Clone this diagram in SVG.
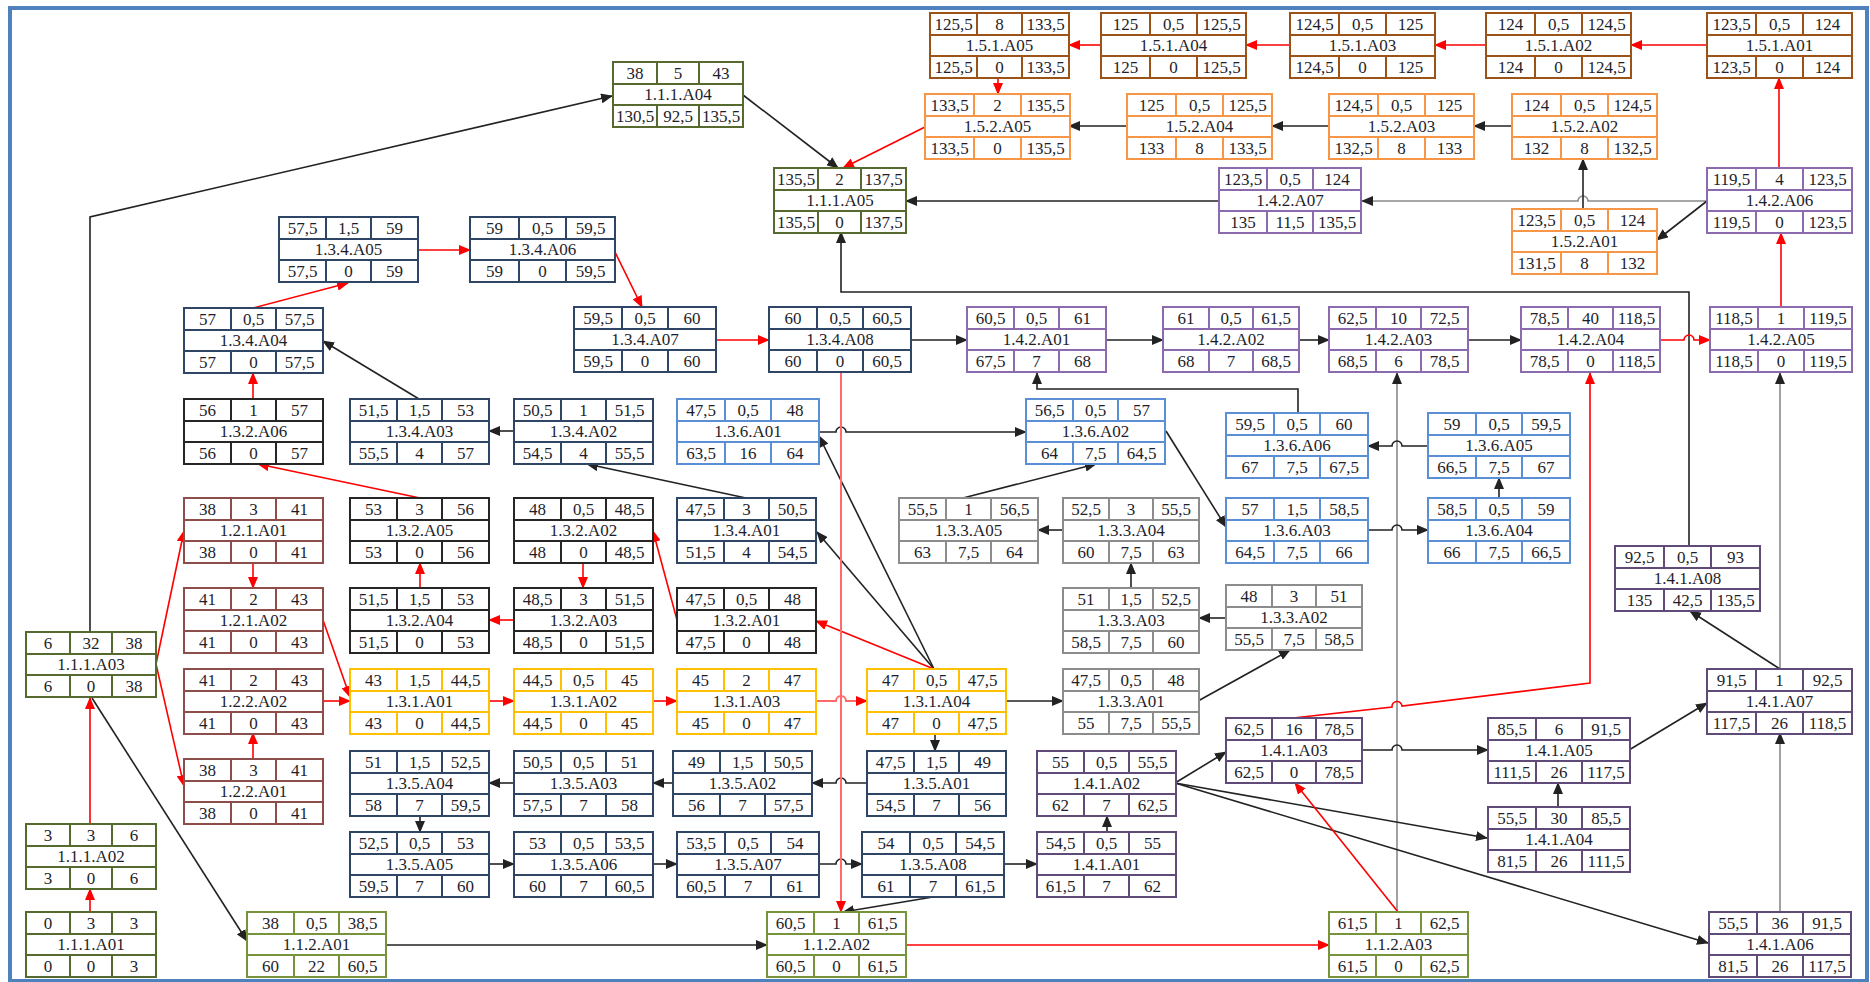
<svg xmlns="http://www.w3.org/2000/svg" xmlns:xlink="http://www.w3.org/1999/xlink" width="1870" height="982" viewBox="0 0 1870 982">
<style>
.n text{font-family:"Liberation Serif","Times New Roman",serif;font-size:17px;fill:#1e1e2a;stroke:none;text-anchor:middle}
.n use{fill:#fff;stroke-width:2}
.c111{stroke:#56692e}.c112{stroke:#77933c}.c12{stroke:#8d4e4b}.c131{stroke:#ffc000}.c132{stroke:#262626}.c133{stroke:#8c8c8c}.c134{stroke:#2f4566}.c136{stroke:#5a8fd6}.c141{stroke:#5f4a78}.c142{stroke:#8b6aad}.c151{stroke:#9c5318}.c152{stroke:#f79646}
.k path{fill:none;stroke-width:1.6}
.k .b{stroke:#222;marker-end:url(#ak)}
.k .g{stroke:#8a8a8a;marker-end:url(#ak)}
.k .r{stroke:#f00;marker-end:url(#ar)}
.k .p{stroke:#ff6a6a;stroke-width:2;marker-end:url(#ar)}
</style>
<defs>
<marker id="ak" markerUnits="userSpaceOnUse" markerWidth="12" markerHeight="10" refX="11" refY="5" orient="auto"><path d="M0 0L12 5L0 10z" fill="#222"/></marker>
<marker id="ar" markerUnits="userSpaceOnUse" markerWidth="12" markerHeight="10" refX="11" refY="5" orient="auto"><path d="M0 0L12 5L0 10z" fill="#f00"/></marker>
<path id="w130" d="M0 0H130V65H0Z M0 22H130 M0 43H130 M44 0V22 M86 0V22 M44 43V65 M86 43V65"/>
<path id="w132" d="M0 0H132V65H0Z M0 22H132 M0 43H132 M44 0V22 M87 0V22 M44 43V65 M87 43V65"/>
<path id="w136" d="M0 0H136V65H0Z M0 22H136 M0 43H136 M46 0V22 M90 0V22 M46 43V65 M90 43V65"/>
<path id="w139" d="M0 0H139V65H0Z M0 22H139 M0 43H139 M47 0V22 M92 0V22 M47 43V65 M92 43V65"/>
<path id="w142" d="M0 0H142V65H0Z M0 22H142 M0 43H142 M48 0V22 M94 0V22 M48 43V65 M94 43V65"/>
<path id="w145" d="M0 0H145V65H0Z M0 22H145 M0 43H145 M49 0V22 M96 0V22 M49 43V65 M96 43V65"/>
</defs>
<rect x="0" y="0" width="1870" height="982" fill="#fff"/>
<rect x="10" y="8" width="1857" height="973" fill="none" stroke="#4f81bd" stroke-width="4"/>
<g id="connectors" class="k">
<path class="b" d="M90 632V217L612 96"/>
<path class="b" d="M743 95L838 168"/>
<path class="b" d="M1219 201H906"/>
<path class="b" d="M1689 546V292H841V232"/>
<path class="g" d="M1707 201H1588a5 5 0 0 0-10 0H1362"/>
<path class="b" d="M1707 201L1657 240"/>
<path class="b" d="M1583 209V159"/>
<path class="b" d="M1512 126H1474"/>
<path class="b" d="M1329 126H1272"/>
<path class="b" d="M1127 126H1069"/>
<path class="b" d="M911 340H967"/>
<path class="b" d="M1106 340H1163"/>
<path class="b" d="M1299 340H1329"/>
<path class="b" d="M1467 340H1521"/>
<path class="b" d="M1298 413V389H1037V373"/>
<path class="g" d="M1397 912V373"/>
<path class="g" d="M1780 669V373"/>
<path class="b" d="M1780 669L1690 611"/>
<path class="g" d="M1780 912V733"/>
<path class="b" d="M1629 750L1707 703"/>
<path class="b" d="M1558 807V783"/>
<path class="b" d="M1362 750H1392a5 5 0 0 1 10 0H1488"/>
<path class="b" d="M1175 783L1226 752"/>
<path class="b" d="M1175 783L1487 838"/>
<path class="b" d="M1175 783L1708 943"/>
<path class="b" d="M1107 832V816"/>
<path class="b" d="M1005 864H1037"/>
<path class="b" d="M933 897L843 912"/>
<path class="b" d="M818 864H836a5 5 0 0 1 10 0H862"/>
<path class="b" d="M654 864H677"/>
<path class="b" d="M490 864H514"/>
<path class="b" d="M420 816V832"/>
<path class="b" d="M514 783H489"/>
<path class="b" d="M673 783H653"/>
<path class="b" d="M867 783H846a5 5 0 0 0-10 0H812"/>
<path class="b" d="M935 733V751"/>
<path class="b" d="M1005 701H1063"/>
<path class="b" d="M1198 701L1290 650"/>
<path class="b" d="M1226 618H1199"/>
<path class="b" d="M1131 588V563"/>
<path class="b" d="M1063 530H1038"/>
<path class="b" d="M963 498L1096 464"/>
<path class="b" d="M818 432H836a5 5 0 0 1 10 0H1026"/>
<path class="b" d="M1166 431L1226 527"/>
<path class="b" d="M1368 530H1392a5 5 0 0 1 10 0H1428"/>
<path class="b" d="M1499 498V478"/>
<path class="b" d="M1428 446H1402a5 5 0 0 0-10 0H1368"/>
<path class="b" d="M934 669L819 436"/>
<path class="b" d="M934 669L817 532"/>
<path class="b" d="M746 498L587 464"/>
<path class="b" d="M514 431H489"/>
<path class="b" d="M419 399L323 341"/>
<path class="b" d="M92 698L247 941"/>
<path class="b" d="M386 945H767"/>
<path class="r" d="M90 912V889"/>
<path class="r" d="M90 824V698"/>
<path class="r" d="M156 664L184 531"/>
<path class="r" d="M156 664L184 786"/>
<path class="r" d="M253 563V588"/>
<path class="r" d="M253 759V733"/>
<path class="r" d="M323 620L350 697"/>
<path class="r" d="M323 701H350"/>
<path class="r" d="M489 701H514"/>
<path class="r" d="M653 701H677"/>
<path class="p" d="M816 701H836a5 5 0 0 1 10 0H867"/>
<path class="r" d="M934 669L816 621"/>
<path class="r" d="M677 620L653 531"/>
<path class="r" d="M583 563V588"/>
<path class="r" d="M514 620H489"/>
<path class="r" d="M420 588V563"/>
<path class="r" d="M420 498L258 464"/>
<path class="r" d="M253 399V373"/>
<path class="r" d="M253 308L348 283"/>
<path class="r" d="M418 250H470"/>
<path class="r" d="M614 250L642 307"/>
<path class="r" d="M716 340H769"/>
<path class="p" d="M841 373V912"/>
<path class="r" d="M906 945H1329"/>
<path class="r" d="M1398 912L1295 783"/>
<path class="r" d="M1293 718L1392 707a5 5 0 0 1 10 -1L1590 683V373"/>
<path class="r" d="M1661 340H1684a5 5 0 0 1 10 0H1710"/>
<path class="r" d="M1781 307V233"/>
<path class="r" d="M1779 168V78"/>
<path class="r" d="M1707 45H1631"/>
<path class="r" d="M1486 45H1435"/>
<path class="r" d="M1290 45H1246"/>
<path class="r" d="M1101 45H1069"/>
<path class="r" d="M998 78V94"/>
<path class="r" d="M925 127L843 168"/>
</g>
<g id="nodes">
<g id="n-1.1.1.A01" class="n c111" transform="translate(26,912)"><use href="#w130"/><text y="17"><tspan x="22">0</tspan><tspan x="65">3</tspan><tspan x="108">3</tspan></text><text x="65" y="38">1.1.1.A01</text><text y="60"><tspan x="22">0</tspan><tspan x="65">0</tspan><tspan x="108">3</tspan></text></g>
<g id="n-1.1.1.A02" class="n c111" transform="translate(26,824)"><use href="#w130"/><text y="17"><tspan x="22">3</tspan><tspan x="65">3</tspan><tspan x="108">6</tspan></text><text x="65" y="38">1.1.1.A02</text><text y="60"><tspan x="22">3</tspan><tspan x="65">0</tspan><tspan x="108">6</tspan></text></g>
<g id="n-1.1.1.A03" class="n c111" transform="translate(26,632)"><use href="#w130"/><text y="17"><tspan x="22">6</tspan><tspan x="65">32</tspan><tspan x="108">38</tspan></text><text x="65" y="38">1.1.1.A03</text><text y="60"><tspan x="22">6</tspan><tspan x="65">0</tspan><tspan x="108">38</tspan></text></g>
<g id="n-1.1.1.A04" class="n c111" transform="translate(613,62)"><use href="#w130"/><text y="17"><tspan x="22">38</tspan><tspan x="65">5</tspan><tspan x="108">43</tspan></text><text x="65" y="38">1.1.1.A04</text><text y="60"><tspan x="22">130,5</tspan><tspan x="65">92,5</tspan><tspan x="108">135,5</tspan></text></g>
<g id="n-1.1.1.A05" class="n c111" transform="translate(774,168)"><use href="#w132"/><text y="17"><tspan x="22">135,5</tspan><tspan x="65.5">2</tspan><tspan x="109.5">137,5</tspan></text><text x="66" y="38">1.1.1.A05</text><text y="60"><tspan x="22">135,5</tspan><tspan x="65.5">0</tspan><tspan x="109.5">137,5</tspan></text></g>
<g id="n-1.1.2.A01" class="n c112" transform="translate(247,912)"><use href="#w139"/><text y="17"><tspan x="23.5">38</tspan><tspan x="69.5">0,5</tspan><tspan x="115.5">38,5</tspan></text><text x="69.5" y="38">1.1.2.A01</text><text y="60"><tspan x="23.5">60</tspan><tspan x="69.5">22</tspan><tspan x="115.5">60,5</tspan></text></g>
<g id="n-1.1.2.A02" class="n c112" transform="translate(767,912)"><use href="#w139"/><text y="17"><tspan x="23.5">60,5</tspan><tspan x="69.5">1</tspan><tspan x="115.5">61,5</tspan></text><text x="69.5" y="38">1.1.2.A02</text><text y="60"><tspan x="23.5">60,5</tspan><tspan x="69.5">0</tspan><tspan x="115.5">61,5</tspan></text></g>
<g id="n-1.1.2.A03" class="n c112" transform="translate(1329,912)"><use href="#w139"/><text y="17"><tspan x="23.5">61,5</tspan><tspan x="69.5">1</tspan><tspan x="115.5">62,5</tspan></text><text x="69.5" y="38">1.1.2.A03</text><text y="60"><tspan x="23.5">61,5</tspan><tspan x="69.5">0</tspan><tspan x="115.5">62,5</tspan></text></g>
<g id="n-1.2.1.A01" class="n c12" transform="translate(184,498)"><use href="#w139"/><text y="17"><tspan x="23.5">38</tspan><tspan x="69.5">3</tspan><tspan x="115.5">41</tspan></text><text x="69.5" y="38">1.2.1.A01</text><text y="60"><tspan x="23.5">38</tspan><tspan x="69.5">0</tspan><tspan x="115.5">41</tspan></text></g>
<g id="n-1.2.1.A02" class="n c12" transform="translate(184,588)"><use href="#w139"/><text y="17"><tspan x="23.5">41</tspan><tspan x="69.5">2</tspan><tspan x="115.5">43</tspan></text><text x="69.5" y="38">1.2.1.A02</text><text y="60"><tspan x="23.5">41</tspan><tspan x="69.5">0</tspan><tspan x="115.5">43</tspan></text></g>
<g id="n-1.2.2.A01" class="n c12" transform="translate(184,759)"><use href="#w139"/><text y="17"><tspan x="23.5">38</tspan><tspan x="69.5">3</tspan><tspan x="115.5">41</tspan></text><text x="69.5" y="38">1.2.2.A01</text><text y="60"><tspan x="23.5">38</tspan><tspan x="69.5">0</tspan><tspan x="115.5">41</tspan></text></g>
<g id="n-1.2.2.A02" class="n c12" transform="translate(184,669)"><use href="#w139"/><text y="17"><tspan x="23.5">41</tspan><tspan x="69.5">2</tspan><tspan x="115.5">43</tspan></text><text x="69.5" y="38">1.2.2.A02</text><text y="60"><tspan x="23.5">41</tspan><tspan x="69.5">0</tspan><tspan x="115.5">43</tspan></text></g>
<g id="n-1.3.1.A01" class="n c131" transform="translate(350,669)"><use href="#w139"/><text y="17"><tspan x="23.5">43</tspan><tspan x="69.5">1,5</tspan><tspan x="115.5">44,5</tspan></text><text x="69.5" y="38">1.3.1.A01</text><text y="60"><tspan x="23.5">43</tspan><tspan x="69.5">0</tspan><tspan x="115.5">44,5</tspan></text></g>
<g id="n-1.3.1.A02" class="n c131" transform="translate(514,669)"><use href="#w139"/><text y="17"><tspan x="23.5">44,5</tspan><tspan x="69.5">0,5</tspan><tspan x="115.5">45</tspan></text><text x="69.5" y="38">1.3.1.A02</text><text y="60"><tspan x="23.5">44,5</tspan><tspan x="69.5">0</tspan><tspan x="115.5">45</tspan></text></g>
<g id="n-1.3.1.A03" class="n c131" transform="translate(677,669)"><use href="#w139"/><text y="17"><tspan x="23.5">45</tspan><tspan x="69.5">2</tspan><tspan x="115.5">47</tspan></text><text x="69.5" y="38">1.3.1.A03</text><text y="60"><tspan x="23.5">45</tspan><tspan x="69.5">0</tspan><tspan x="115.5">47</tspan></text></g>
<g id="n-1.3.1.A04" class="n c131" transform="translate(867,669)"><use href="#w139"/><text y="17"><tspan x="23.5">47</tspan><tspan x="69.5">0,5</tspan><tspan x="115.5">47,5</tspan></text><text x="69.5" y="38">1.3.1.A04</text><text y="60"><tspan x="23.5">47</tspan><tspan x="69.5">0</tspan><tspan x="115.5">47,5</tspan></text></g>
<g id="n-1.3.2.A01" class="n c132" transform="translate(677,588)"><use href="#w139"/><text y="17"><tspan x="23.5">47,5</tspan><tspan x="69.5">0,5</tspan><tspan x="115.5">48</tspan></text><text x="69.5" y="38">1.3.2.A01</text><text y="60"><tspan x="23.5">47,5</tspan><tspan x="69.5">0</tspan><tspan x="115.5">48</tspan></text></g>
<g id="n-1.3.2.A02" class="n c132" transform="translate(514,498)"><use href="#w139"/><text y="17"><tspan x="23.5">48</tspan><tspan x="69.5">0,5</tspan><tspan x="115.5">48,5</tspan></text><text x="69.5" y="38">1.3.2.A02</text><text y="60"><tspan x="23.5">48</tspan><tspan x="69.5">0</tspan><tspan x="115.5">48,5</tspan></text></g>
<g id="n-1.3.2.A03" class="n c132" transform="translate(514,588)"><use href="#w139"/><text y="17"><tspan x="23.5">48,5</tspan><tspan x="69.5">3</tspan><tspan x="115.5">51,5</tspan></text><text x="69.5" y="38">1.3.2.A03</text><text y="60"><tspan x="23.5">48,5</tspan><tspan x="69.5">0</tspan><tspan x="115.5">51,5</tspan></text></g>
<g id="n-1.3.2.A04" class="n c132" transform="translate(350,588)"><use href="#w139"/><text y="17"><tspan x="23.5">51,5</tspan><tspan x="69.5">1,5</tspan><tspan x="115.5">53</tspan></text><text x="69.5" y="38">1.3.2.A04</text><text y="60"><tspan x="23.5">51,5</tspan><tspan x="69.5">0</tspan><tspan x="115.5">53</tspan></text></g>
<g id="n-1.3.2.A05" class="n c132" transform="translate(350,498)"><use href="#w139"/><text y="17"><tspan x="23.5">53</tspan><tspan x="69.5">3</tspan><tspan x="115.5">56</tspan></text><text x="69.5" y="38">1.3.2.A05</text><text y="60"><tspan x="23.5">53</tspan><tspan x="69.5">0</tspan><tspan x="115.5">56</tspan></text></g>
<g id="n-1.3.2.A06" class="n c132" transform="translate(184,399)"><use href="#w139"/><text y="17"><tspan x="23.5">56</tspan><tspan x="69.5">1</tspan><tspan x="115.5">57</tspan></text><text x="69.5" y="38">1.3.2.A06</text><text y="60"><tspan x="23.5">56</tspan><tspan x="69.5">0</tspan><tspan x="115.5">57</tspan></text></g>
<g id="n-1.3.3.A01" class="n c133" transform="translate(1063,669)"><use href="#w136"/><text y="17"><tspan x="23">47,5</tspan><tspan x="68">0,5</tspan><tspan x="113">48</tspan></text><text x="68" y="38">1.3.3.A01</text><text y="60"><tspan x="23">55</tspan><tspan x="68">7,5</tspan><tspan x="113">55,5</tspan></text></g>
<g id="n-1.3.3.A02" class="n c133" transform="translate(1226,585)"><use href="#w136"/><text y="17"><tspan x="23">48</tspan><tspan x="68">3</tspan><tspan x="113">51</tspan></text><text x="68" y="38">1.3.3.A02</text><text y="60"><tspan x="23">55,5</tspan><tspan x="68">7,5</tspan><tspan x="113">58,5</tspan></text></g>
<g id="n-1.3.3.A03" class="n c133" transform="translate(1063,588)"><use href="#w136"/><text y="17"><tspan x="23">51</tspan><tspan x="68">1,5</tspan><tspan x="113">52,5</tspan></text><text x="68" y="38">1.3.3.A03</text><text y="60"><tspan x="23">58,5</tspan><tspan x="68">7,5</tspan><tspan x="113">60</tspan></text></g>
<g id="n-1.3.3.A04" class="n c133" transform="translate(1063,498)"><use href="#w136"/><text y="17"><tspan x="23">52,5</tspan><tspan x="68">3</tspan><tspan x="113">55,5</tspan></text><text x="68" y="38">1.3.3.A04</text><text y="60"><tspan x="23">60</tspan><tspan x="68">7,5</tspan><tspan x="113">63</tspan></text></g>
<g id="n-1.3.3.A05" class="n c133" transform="translate(899,498)"><use href="#w139"/><text y="17"><tspan x="23.5">55,5</tspan><tspan x="69.5">1</tspan><tspan x="115.5">56,5</tspan></text><text x="69.5" y="38">1.3.3.A05</text><text y="60"><tspan x="23.5">63</tspan><tspan x="69.5">7,5</tspan><tspan x="115.5">64</tspan></text></g>
<g id="n-1.3.4.A01" class="n c134" transform="translate(677,498)"><use href="#w139"/><text y="17"><tspan x="23.5">47,5</tspan><tspan x="69.5">3</tspan><tspan x="115.5">50,5</tspan></text><text x="69.5" y="38">1.3.4.A01</text><text y="60"><tspan x="23.5">51,5</tspan><tspan x="69.5">4</tspan><tspan x="115.5">54,5</tspan></text></g>
<g id="n-1.3.4.A02" class="n c134" transform="translate(514,399)"><use href="#w139"/><text y="17"><tspan x="23.5">50,5</tspan><tspan x="69.5">1</tspan><tspan x="115.5">51,5</tspan></text><text x="69.5" y="38">1.3.4.A02</text><text y="60"><tspan x="23.5">54,5</tspan><tspan x="69.5">4</tspan><tspan x="115.5">55,5</tspan></text></g>
<g id="n-1.3.4.A03" class="n c134" transform="translate(350,399)"><use href="#w139"/><text y="17"><tspan x="23.5">51,5</tspan><tspan x="69.5">1,5</tspan><tspan x="115.5">53</tspan></text><text x="69.5" y="38">1.3.4.A03</text><text y="60"><tspan x="23.5">55,5</tspan><tspan x="69.5">4</tspan><tspan x="115.5">57</tspan></text></g>
<g id="n-1.3.4.A04" class="n c134" transform="translate(184,308)"><use href="#w139"/><text y="17"><tspan x="23.5">57</tspan><tspan x="69.5">0,5</tspan><tspan x="115.5">57,5</tspan></text><text x="69.5" y="38">1.3.4.A04</text><text y="60"><tspan x="23.5">57</tspan><tspan x="69.5">0</tspan><tspan x="115.5">57,5</tspan></text></g>
<g id="n-1.3.4.A05" class="n c134" transform="translate(279,217)"><use href="#w139"/><text y="17"><tspan x="23.5">57,5</tspan><tspan x="69.5">1,5</tspan><tspan x="115.5">59</tspan></text><text x="69.5" y="38">1.3.4.A05</text><text y="60"><tspan x="23.5">57,5</tspan><tspan x="69.5">0</tspan><tspan x="115.5">59</tspan></text></g>
<g id="n-1.3.4.A06" class="n c134" transform="translate(470,217)"><use href="#w145"/><text y="17"><tspan x="24.5">59</tspan><tspan x="72.5">0,5</tspan><tspan x="120.5">59,5</tspan></text><text x="72.5" y="38">1.3.4.A06</text><text y="60"><tspan x="24.5">59</tspan><tspan x="72.5">0</tspan><tspan x="120.5">59,5</tspan></text></g>
<g id="n-1.3.4.A07" class="n c134" transform="translate(574,307)"><use href="#w142"/><text y="17"><tspan x="24">59,5</tspan><tspan x="71">0,5</tspan><tspan x="118">60</tspan></text><text x="71" y="38">1.3.4.A07</text><text y="60"><tspan x="24">59,5</tspan><tspan x="71">0</tspan><tspan x="118">60</tspan></text></g>
<g id="n-1.3.4.A08" class="n c134" transform="translate(769,307)"><use href="#w142"/><text y="17"><tspan x="24">60</tspan><tspan x="71">0,5</tspan><tspan x="118">60,5</tspan></text><text x="71" y="38">1.3.4.A08</text><text y="60"><tspan x="24">60</tspan><tspan x="71">0</tspan><tspan x="118">60,5</tspan></text></g>
<g id="n-1.3.5.A01" class="n c134" transform="translate(867,751)"><use href="#w139"/><text y="17"><tspan x="23.5">47,5</tspan><tspan x="69.5">1,5</tspan><tspan x="115.5">49</tspan></text><text x="69.5" y="38">1.3.5.A01</text><text y="60"><tspan x="23.5">54,5</tspan><tspan x="69.5">7</tspan><tspan x="115.5">56</tspan></text></g>
<g id="n-1.3.5.A02" class="n c134" transform="translate(673,751)"><use href="#w139"/><text y="17"><tspan x="23.5">49</tspan><tspan x="69.5">1,5</tspan><tspan x="115.5">50,5</tspan></text><text x="69.5" y="38">1.3.5.A02</text><text y="60"><tspan x="23.5">56</tspan><tspan x="69.5">7</tspan><tspan x="115.5">57,5</tspan></text></g>
<g id="n-1.3.5.A03" class="n c134" transform="translate(514,751)"><use href="#w139"/><text y="17"><tspan x="23.5">50,5</tspan><tspan x="69.5">0,5</tspan><tspan x="115.5">51</tspan></text><text x="69.5" y="38">1.3.5.A03</text><text y="60"><tspan x="23.5">57,5</tspan><tspan x="69.5">7</tspan><tspan x="115.5">58</tspan></text></g>
<g id="n-1.3.5.A04" class="n c134" transform="translate(350,751)"><use href="#w139"/><text y="17"><tspan x="23.5">51</tspan><tspan x="69.5">1,5</tspan><tspan x="115.5">52,5</tspan></text><text x="69.5" y="38">1.3.5.A04</text><text y="60"><tspan x="23.5">58</tspan><tspan x="69.5">7</tspan><tspan x="115.5">59,5</tspan></text></g>
<g id="n-1.3.5.A05" class="n c134" transform="translate(350,832)"><use href="#w139"/><text y="17"><tspan x="23.5">52,5</tspan><tspan x="69.5">0,5</tspan><tspan x="115.5">53</tspan></text><text x="69.5" y="38">1.3.5.A05</text><text y="60"><tspan x="23.5">59,5</tspan><tspan x="69.5">7</tspan><tspan x="115.5">60</tspan></text></g>
<g id="n-1.3.5.A06" class="n c134" transform="translate(514,832)"><use href="#w139"/><text y="17"><tspan x="23.5">53</tspan><tspan x="69.5">0,5</tspan><tspan x="115.5">53,5</tspan></text><text x="69.5" y="38">1.3.5.A06</text><text y="60"><tspan x="23.5">60</tspan><tspan x="69.5">7</tspan><tspan x="115.5">60,5</tspan></text></g>
<g id="n-1.3.5.A07" class="n c134" transform="translate(677,832)"><use href="#w142"/><text y="17"><tspan x="24">53,5</tspan><tspan x="71">0,5</tspan><tspan x="118">54</tspan></text><text x="71" y="38">1.3.5.A07</text><text y="60"><tspan x="24">60,5</tspan><tspan x="71">7</tspan><tspan x="118">61</tspan></text></g>
<g id="n-1.3.5.A08" class="n c134" transform="translate(862,832)"><use href="#w142"/><text y="17"><tspan x="24">54</tspan><tspan x="71">0,5</tspan><tspan x="118">54,5</tspan></text><text x="71" y="38">1.3.5.A08</text><text y="60"><tspan x="24">61</tspan><tspan x="71">7</tspan><tspan x="118">61,5</tspan></text></g>
<g id="n-1.3.6.A01" class="n c136" transform="translate(677,399)"><use href="#w142"/><text y="17"><tspan x="24">47,5</tspan><tspan x="71">0,5</tspan><tspan x="118">48</tspan></text><text x="71" y="38">1.3.6.A01</text><text y="60"><tspan x="24">63,5</tspan><tspan x="71">16</tspan><tspan x="118">64</tspan></text></g>
<g id="n-1.3.6.A02" class="n c136" transform="translate(1026,399)"><use href="#w139"/><text y="17"><tspan x="23.5">56,5</tspan><tspan x="69.5">0,5</tspan><tspan x="115.5">57</tspan></text><text x="69.5" y="38">1.3.6.A02</text><text y="60"><tspan x="23.5">64</tspan><tspan x="69.5">7,5</tspan><tspan x="115.5">64,5</tspan></text></g>
<g id="n-1.3.6.A03" class="n c136" transform="translate(1226,498)"><use href="#w142"/><text y="17"><tspan x="24">57</tspan><tspan x="71">1,5</tspan><tspan x="118">58,5</tspan></text><text x="71" y="38">1.3.6.A03</text><text y="60"><tspan x="24">64,5</tspan><tspan x="71">7,5</tspan><tspan x="118">66</tspan></text></g>
<g id="n-1.3.6.A04" class="n c136" transform="translate(1428,498)"><use href="#w142"/><text y="17"><tspan x="24">58,5</tspan><tspan x="71">0,5</tspan><tspan x="118">59</tspan></text><text x="71" y="38">1.3.6.A04</text><text y="60"><tspan x="24">66</tspan><tspan x="71">7,5</tspan><tspan x="118">66,5</tspan></text></g>
<g id="n-1.3.6.A05" class="n c136" transform="translate(1428,413)"><use href="#w142"/><text y="17"><tspan x="24">59</tspan><tspan x="71">0,5</tspan><tspan x="118">59,5</tspan></text><text x="71" y="38">1.3.6.A05</text><text y="60"><tspan x="24">66,5</tspan><tspan x="71">7,5</tspan><tspan x="118">67</tspan></text></g>
<g id="n-1.3.6.A06" class="n c136" transform="translate(1226,413)"><use href="#w142"/><text y="17"><tspan x="24">59,5</tspan><tspan x="71">0,5</tspan><tspan x="118">60</tspan></text><text x="71" y="38">1.3.6.A06</text><text y="60"><tspan x="24">67</tspan><tspan x="71">7,5</tspan><tspan x="118">67,5</tspan></text></g>
<g id="n-1.4.1.A01" class="n c141" transform="translate(1037,832)"><use href="#w139"/><text y="17"><tspan x="23.5">54,5</tspan><tspan x="69.5">0,5</tspan><tspan x="115.5">55</tspan></text><text x="69.5" y="38">1.4.1.A01</text><text y="60"><tspan x="23.5">61,5</tspan><tspan x="69.5">7</tspan><tspan x="115.5">62</tspan></text></g>
<g id="n-1.4.1.A02" class="n c141" transform="translate(1037,751)"><use href="#w139"/><text y="17"><tspan x="23.5">55</tspan><tspan x="69.5">0,5</tspan><tspan x="115.5">55,5</tspan></text><text x="69.5" y="38">1.4.1.A02</text><text y="60"><tspan x="23.5">62</tspan><tspan x="69.5">7</tspan><tspan x="115.5">62,5</tspan></text></g>
<g id="n-1.4.1.A03" class="n c141" transform="translate(1226,718)"><use href="#w136"/><text y="17"><tspan x="23">62,5</tspan><tspan x="68">16</tspan><tspan x="113">78,5</tspan></text><text x="68" y="38">1.4.1.A03</text><text y="60"><tspan x="23">62,5</tspan><tspan x="68">0</tspan><tspan x="113">78,5</tspan></text></g>
<g id="n-1.4.1.A04" class="n c141" transform="translate(1488,807)"><use href="#w142"/><text y="17"><tspan x="24">55,5</tspan><tspan x="71">30</tspan><tspan x="118">85,5</tspan></text><text x="71" y="38">1.4.1.A04</text><text y="60"><tspan x="24">81,5</tspan><tspan x="71">26</tspan><tspan x="118">111,5</tspan></text></g>
<g id="n-1.4.1.A05" class="n c141" transform="translate(1488,718)"><use href="#w142"/><text y="17"><tspan x="24">85,5</tspan><tspan x="71">6</tspan><tspan x="118">91,5</tspan></text><text x="71" y="38">1.4.1.A05</text><text y="60"><tspan x="24">111,5</tspan><tspan x="71">26</tspan><tspan x="118">117,5</tspan></text></g>
<g id="n-1.4.1.A06" class="n c141" transform="translate(1709,912)"><use href="#w142"/><text y="17"><tspan x="24">55,5</tspan><tspan x="71">36</tspan><tspan x="118">91,5</tspan></text><text x="71" y="38">1.4.1.A06</text><text y="60"><tspan x="24">81,5</tspan><tspan x="71">26</tspan><tspan x="118">117,5</tspan></text></g>
<g id="n-1.4.1.A07" class="n c141" transform="translate(1707,669)"><use href="#w145"/><text y="17"><tspan x="24.5">91,5</tspan><tspan x="72.5">1</tspan><tspan x="120.5">92,5</tspan></text><text x="72.5" y="38">1.4.1.A07</text><text y="60"><tspan x="24.5">117,5</tspan><tspan x="72.5">26</tspan><tspan x="120.5">118,5</tspan></text></g>
<g id="n-1.4.1.A08" class="n c141" transform="translate(1615,546)"><use href="#w145"/><text y="17"><tspan x="24.5">92,5</tspan><tspan x="72.5">0,5</tspan><tspan x="120.5">93</tspan></text><text x="72.5" y="38">1.4.1.A08</text><text y="60"><tspan x="24.5">135</tspan><tspan x="72.5">42,5</tspan><tspan x="120.5">135,5</tspan></text></g>
<g id="n-1.4.2.A01" class="n c142" transform="translate(967,307)"><use href="#w139"/><text y="17"><tspan x="23.5">60,5</tspan><tspan x="69.5">0,5</tspan><tspan x="115.5">61</tspan></text><text x="69.5" y="38">1.4.2.A01</text><text y="60"><tspan x="23.5">67,5</tspan><tspan x="69.5">7</tspan><tspan x="115.5">68</tspan></text></g>
<g id="n-1.4.2.A02" class="n c142" transform="translate(1163,307)"><use href="#w136"/><text y="17"><tspan x="23">61</tspan><tspan x="68">0,5</tspan><tspan x="113">61,5</tspan></text><text x="68" y="38">1.4.2.A02</text><text y="60"><tspan x="23">68</tspan><tspan x="68">7</tspan><tspan x="113">68,5</tspan></text></g>
<g id="n-1.4.2.A03" class="n c142" transform="translate(1329,307)"><use href="#w139"/><text y="17"><tspan x="23.5">62,5</tspan><tspan x="69.5">10</tspan><tspan x="115.5">72,5</tspan></text><text x="69.5" y="38">1.4.2.A03</text><text y="60"><tspan x="23.5">68,5</tspan><tspan x="69.5">6</tspan><tspan x="115.5">78,5</tspan></text></g>
<g id="n-1.4.2.A04" class="n c142" transform="translate(1521,307)"><use href="#w139"/><text y="17"><tspan x="23.5">78,5</tspan><tspan x="69.5">40</tspan><tspan x="115.5">118,5</tspan></text><text x="69.5" y="38">1.4.2.A04</text><text y="60"><tspan x="23.5">78,5</tspan><tspan x="69.5">0</tspan><tspan x="115.5">118,5</tspan></text></g>
<g id="n-1.4.2.A05" class="n c142" transform="translate(1710,307)"><use href="#w142"/><text y="17"><tspan x="24">118,5</tspan><tspan x="71">1</tspan><tspan x="118">119,5</tspan></text><text x="71" y="38">1.4.2.A05</text><text y="60"><tspan x="24">118,5</tspan><tspan x="71">0</tspan><tspan x="118">119,5</tspan></text></g>
<g id="n-1.4.2.A06" class="n c142" transform="translate(1707,168)"><use href="#w145"/><text y="17"><tspan x="24.5">119,5</tspan><tspan x="72.5">4</tspan><tspan x="120.5">123,5</tspan></text><text x="72.5" y="38">1.4.2.A06</text><text y="60"><tspan x="24.5">119,5</tspan><tspan x="72.5">0</tspan><tspan x="120.5">123,5</tspan></text></g>
<g id="n-1.4.2.A07" class="n c142" transform="translate(1219,168)"><use href="#w142"/><text y="17"><tspan x="24">123,5</tspan><tspan x="71">0,5</tspan><tspan x="118">124</tspan></text><text x="71" y="38">1.4.2.A07</text><text y="60"><tspan x="24">135</tspan><tspan x="71">11,5</tspan><tspan x="118">135,5</tspan></text></g>
<g id="n-1.5.1.A01" class="n c151" transform="translate(1707,13)"><use href="#w145"/><text y="17"><tspan x="24.5">123,5</tspan><tspan x="72.5">0,5</tspan><tspan x="120.5">124</tspan></text><text x="72.5" y="38">1.5.1.A01</text><text y="60"><tspan x="24.5">123,5</tspan><tspan x="72.5">0</tspan><tspan x="120.5">124</tspan></text></g>
<g id="n-1.5.1.A02" class="n c151" transform="translate(1486,13)"><use href="#w145"/><text y="17"><tspan x="24.5">124</tspan><tspan x="72.5">0,5</tspan><tspan x="120.5">124,5</tspan></text><text x="72.5" y="38">1.5.1.A02</text><text y="60"><tspan x="24.5">124</tspan><tspan x="72.5">0</tspan><tspan x="120.5">124,5</tspan></text></g>
<g id="n-1.5.1.A03" class="n c151" transform="translate(1290,13)"><use href="#w145"/><text y="17"><tspan x="24.5">124,5</tspan><tspan x="72.5">0,5</tspan><tspan x="120.5">125</tspan></text><text x="72.5" y="38">1.5.1.A03</text><text y="60"><tspan x="24.5">124,5</tspan><tspan x="72.5">0</tspan><tspan x="120.5">125</tspan></text></g>
<g id="n-1.5.1.A04" class="n c151" transform="translate(1101,13)"><use href="#w145"/><text y="17"><tspan x="24.5">125</tspan><tspan x="72.5">0,5</tspan><tspan x="120.5">125,5</tspan></text><text x="72.5" y="38">1.5.1.A04</text><text y="60"><tspan x="24.5">125</tspan><tspan x="72.5">0</tspan><tspan x="120.5">125,5</tspan></text></g>
<g id="n-1.5.1.A05" class="n c151" transform="translate(930,13)"><use href="#w139"/><text y="17"><tspan x="23.5">125,5</tspan><tspan x="69.5">8</tspan><tspan x="115.5">133,5</tspan></text><text x="69.5" y="38">1.5.1.A05</text><text y="60"><tspan x="23.5">125,5</tspan><tspan x="69.5">0</tspan><tspan x="115.5">133,5</tspan></text></g>
<g id="n-1.5.2.A01" class="n c152" transform="translate(1512,209)"><use href="#w145"/><text y="17"><tspan x="24.5">123,5</tspan><tspan x="72.5">0,5</tspan><tspan x="120.5">124</tspan></text><text x="72.5" y="38">1.5.2.A01</text><text y="60"><tspan x="24.5">131,5</tspan><tspan x="72.5">8</tspan><tspan x="120.5">132</tspan></text></g>
<g id="n-1.5.2.A02" class="n c152" transform="translate(1512,94)"><use href="#w145"/><text y="17"><tspan x="24.5">124</tspan><tspan x="72.5">0,5</tspan><tspan x="120.5">124,5</tspan></text><text x="72.5" y="38">1.5.2.A02</text><text y="60"><tspan x="24.5">132</tspan><tspan x="72.5">8</tspan><tspan x="120.5">132,5</tspan></text></g>
<g id="n-1.5.2.A03" class="n c152" transform="translate(1329,94)"><use href="#w145"/><text y="17"><tspan x="24.5">124,5</tspan><tspan x="72.5">0,5</tspan><tspan x="120.5">125</tspan></text><text x="72.5" y="38">1.5.2.A03</text><text y="60"><tspan x="24.5">132,5</tspan><tspan x="72.5">8</tspan><tspan x="120.5">133</tspan></text></g>
<g id="n-1.5.2.A04" class="n c152" transform="translate(1127,94)"><use href="#w145"/><text y="17"><tspan x="24.5">125</tspan><tspan x="72.5">0,5</tspan><tspan x="120.5">125,5</tspan></text><text x="72.5" y="38">1.5.2.A04</text><text y="60"><tspan x="24.5">133</tspan><tspan x="72.5">8</tspan><tspan x="120.5">133,5</tspan></text></g>
<g id="n-1.5.2.A05" class="n c152" transform="translate(925,94)"><use href="#w145"/><text y="17"><tspan x="24.5">133,5</tspan><tspan x="72.5">2</tspan><tspan x="120.5">135,5</tspan></text><text x="72.5" y="38">1.5.2.A05</text><text y="60"><tspan x="24.5">133,5</tspan><tspan x="72.5">0</tspan><tspan x="120.5">135,5</tspan></text></g>
</g>
</svg>
